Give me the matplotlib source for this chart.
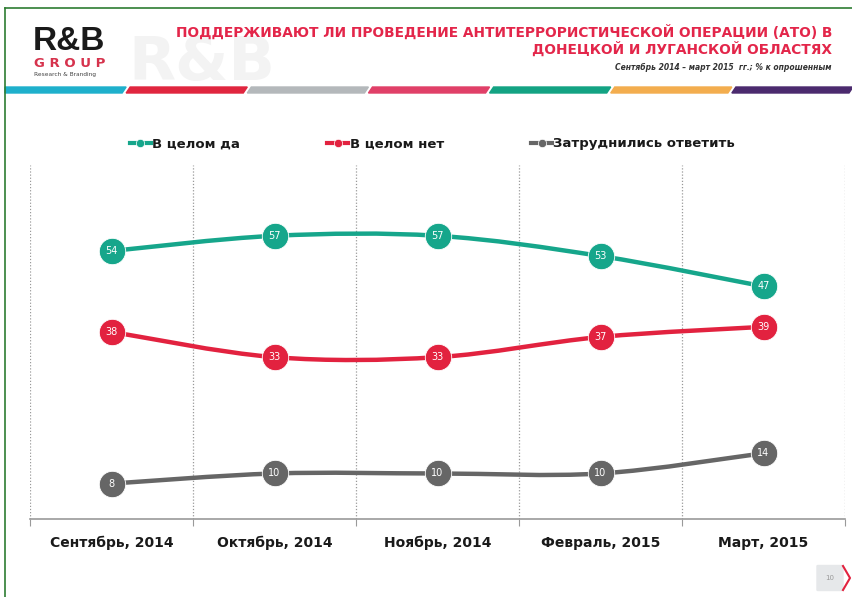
import numpy as np
import matplotlib.pyplot as plt
from matplotlib.path import Path
from matplotlib.patches import PathPatch, Polygon, FancyBboxPatch
from matplotlib.lines import Line2D

# =====================================================
# Data
# =====================================================

months = ["Сентябрь, 2014", "Октябрь, 2014", "Ноябрь, 2014", "Февраль, 2015", "Март, 2015"]
yes_vals = [54, 57, 57, 53, 47]
no_vals = [38, 33, 33, 37, 39]
hard_vals = [8, 10, 10, 10, 14]

series_names = ["В целом да", "В целом нет", "Затруднились ответить"]
series_colors = ["#16a68b", "#e2223f", "#666666"]

title_1 = "ПОДДЕРЖИВАЮТ ЛИ ПРОВЕДЕНИЕ АНТИТЕРРОРИСТИЧЕСКОЙ ОПЕРАЦИИ (АТО) В"
title_2 = "ДОНЕЦКОЙ И ЛУГАНСКОЙ ОБЛАСТЯХ"
subtitle = "Сентябрь 2014 – март 2015  гг.; % к опрошенным"

stripe_colors = ["#1fb0cc", "#e0263f", "#b4b8bb", "#e04068", "#13a383", "#f3ad4e", "#4b2a6e"]

W, H = 853, 597
fig = plt.figure(figsize=(W / 100, H / 100), dpi=100)


def fx(px):
    return px / W


def fy(py):
    return 1 - py / H


# =====================================================
# Slide decoration
# =====================================================

# green frame (left + top)
fig.add_artist(Line2D([fx(5), fx(5)], [fy(8), 0], color="#2e7d32", lw=1.2))
fig.add_artist(Line2D([fx(5), 1], [fy(8), fy(8)], color="#2e7d32", lw=1.2))

# coloured stripe under the header
n = len(stripe_colors)
seg = (W - 5) / n
for i, c in enumerate(stripe_colors):
    x0 = 5 + i * seg
    x1 = x0 + seg - 4
    sk = 4
    pts = [(fx(x0 + sk), fy(87)), (fx(x1 + sk), fy(87)), (fx(x1), fy(93)), (fx(x0), fy(93))]
    if i == 0:
        pts[0] = (fx(x0), fy(87))
    fig.add_artist(Polygon(pts, closed=True, color=c, transform=fig.transFigure))

# watermark + logo
fig.text(fx(128), fy(80), "R&B", fontsize=44, fontweight="bold", color="#f3f3f3",
         va="baseline", zorder=0)
fig.text(fx(33), fy(50), "R&B", fontsize=24, fontweight="bold", color="#1a1a1a",
         family="Liberation Sans", va="baseline")
fig.text(fx(34), fy(67), "G R O U P", fontsize=9.5, fontweight="bold", color="#d6334d",
         va="baseline")
fig.text(fx(34), fy(76), "Research & Branding", fontsize=4.2, color="#444444", va="baseline")

# title
fig.text(fx(832), fy(37), title_1, fontsize=9.9, fontweight="bold", color="#e3264a",
         ha="right", va="baseline")
fig.text(fx(832), fy(54), title_2, fontsize=9.9, fontweight="bold", color="#e3264a",
         ha="right", va="baseline")
fig.text(fx(832), fy(70), subtitle, fontsize=5.5, fontweight="bold", style="italic",
         color="#333333", ha="right", va="baseline")

# page number
fig.add_artist(FancyBboxPatch((fx(818), fy(590)), fx(24), fy(566) - fy(590),
                              boxstyle="round,pad=0.002", fc="#e6e8ea", ec="none",
                              transform=fig.transFigure))
fig.text(fx(830), fy(578), "10", fontsize=5, color="#999999", ha="center", va="center")
fig.add_artist(Line2D([fx(843), fx(850), fx(843)], [fy(566), fy(578), fy(590)],
                      color="#e2223f", lw=1.5))

# =====================================================
# Chart
# =====================================================

ax = fig.add_axes([fx(30), fy(519), fx(845) - fx(30), fy(165) - fy(519)])
x = np.arange(len(months))
ax.set_xlim(-0.5, len(months) - 0.5)
ax.set_ylim(1, 71)


def smooth_path(xs, ys):
    # Catmull-Rom style cubic bezier through the data points
    pts = np.column_stack([xs, ys]).astype(float)
    verts = [pts[0]]
    codes = [Path.MOVETO]
    for i in range(len(pts) - 1):
        p0 = pts[i - 1] if i > 0 else pts[i]
        p1 = pts[i]
        p2 = pts[i + 1]
        p3 = pts[i + 2] if i + 2 < len(pts) else pts[i + 1]
        c1 = p1 + (p2 - p0) / 6
        c2 = p2 - (p3 - p1) / 6
        verts += [c1, c2, p2]
        codes += [Path.CURVE4] * 3
    return Path(verts, codes)


for vals, name, col in zip([yes_vals, no_vals, hard_vals], series_names, series_colors):
    ax.add_patch(PathPatch(smooth_path(x, vals), fill=False, ec=col, lw=3.2,
                           capstyle="round", zorder=3))
    ax.plot(x, vals, linestyle="none", marker="o", ms=19, color=col, mec="white",
            mew=0.6, zorder=4)
    for xi, v in zip(x, vals):
        ax.text(xi, v, str(v), color="white", fontsize=7, ha="center", va="center", zorder=5)

# legend
handles = [Line2D([0], [0], color=c, lw=3, marker="o", ms=6, mec="white", mew=0.5)
           for c in series_colors]
leg = fig.legend(handles, series_names, loc="center left", bbox_to_anchor=(fx(118), fy(144)),
                 ncol=3, frameon=False, handlelength=1.6, handletextpad=0.1,
                 columnspacing=6.6, prop={"weight": "bold", "size": 9.5})
for t in leg.get_texts():
    t.set_color("#1a1a1a")

# axes styling
for s in ["top", "left", "right"]:
    ax.spines[s].set_visible(False)
ax.spines["bottom"].set_color("#9a9a9a")
ax.spines["bottom"].set_linewidth(1.2)
ax.set_yticks([])
ax.set_xticks(x)
ax.set_xticklabels(months, fontsize=10, fontweight="bold", color="#1a1a1a")
ax.tick_params(axis="x", which="major", length=0, pad=12)
ax.set_xticks(np.arange(-0.5, len(months)), minor=True)
ax.tick_params(axis="x", which="minor", length=5, color="#9a9a9a", width=0.8)
ax.grid(True, axis="x", which="minor", linestyle=(0, (1, 1.5)), color="#9a9a9a", lw=0.9)
for gl in ax.xaxis.get_minorticklines() + ax.get_xgridlines():
    gl.set_clip_on(False)

fig.savefig("out.png", dpi=100)
